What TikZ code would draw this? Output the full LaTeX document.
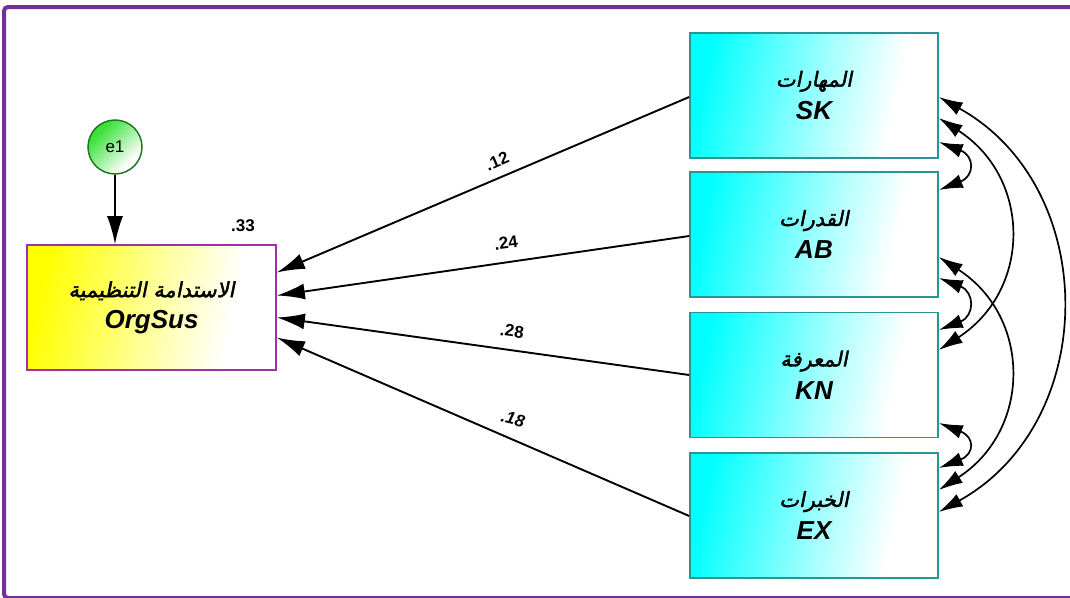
\documentclass[tikz,border=0pt]{standalone}
\usepackage{fontspec}
\setmainfont{Liberation Sans}
\newfontfamily\arabicfont[Script=Arabic,FakeSlant=0.2,FakeBold=2]{DejaVu Sans}
\TeXXeTstate=1
\usetikzlibrary{arrows.meta,calc}

\definecolor{framepurple}{RGB}{112,48,160}
\definecolor{boxpurple}{RGB}{160,48,170}
\definecolor{boxteal}{RGB}{40,150,150}
\definecolor{ballgreen}{RGB}{30,120,40}
\definecolor{ballfill}{RGB}{60,225,60}

\pgfdeclarehorizontalshading{cyanfade}{100bp}{color(0bp)=(cyan); color(25bp)=(cyan); color(52bp)=(cyan!35); color(68bp)=(white); color(100bp)=(white)}
\pgfdeclarehorizontalshading{yellowfade}{100bp}{color(0bp)=(yellow); color(25bp)=(yellow); color(52bp)=(yellow!35); color(68bp)=(white); color(100bp)=(white)}
\pgfdeclarehorizontalshading{greenfade}{100bp}{color(0bp)=(ballfill); color(30bp)=(ballfill); color(70bp)=(white); color(100bp)=(white)}

\tikzset{
  varbox/.style={draw=boxteal, line width=1.6pt, shading=cyanfade, shading angle=-12,
    minimum width=248pt, minimum height=125pt, inner sep=0pt, align=center},
  depbox/.style={draw=boxpurple, line width=1.6pt, shading=yellowfade, shading angle=-12,
    minimum width=249pt, minimum height=125pt, inner sep=0pt, align=center},
  errball/.style={circle, draw=ballgreen, line width=1.5pt, shading=greenfade, shading angle=-45,
    minimum size=54pt, inner sep=0pt, font=\fontsize{17}{17}\selectfont},
  path/.style={line width=1.9pt, -{Latex[length=28pt,width=16pt]}},
  cov/.style={line width=1.7pt, {Latex[length=24pt,width=14pt]}-{Latex[length=24pt,width=14pt]}},
  coef/.style={font=\fontsize{17}{17}\selectfont\bfseries, inner sep=1pt},
}

\newcommand{\boxtext}[2]{{\fontsize{21}{21}\selectfont\arabicfont\beginR #1\endR}\\[9pt]{\fontsize{26}{26}\selectfont\bfseries\itshape #2}}

\begin{document}
\begin{tikzpicture}[x=1pt,y=-1pt]
  \useasboundingbox (0,0) rectangle (1070,597);
  % outer frame
  \draw[framepurple, line width=4pt, rounded corners=4pt] (4,7) rectangle (1090,598);

  % dependent variable and its error term
  \node[depbox] (org) at (151.5,307.5) {\boxtext{الاستدامة التنظيمية}{OrgSus}};
  \node[errball] (e1) at (115,147) {e1};
  \draw[path] (e1) -- (e1|-org.north);
  \node[coef] (r2) at (243,226) {.33};

  % predictors
  \node[varbox] (sk) at (814,95.5)  {\boxtext{المهارات}{SK}};
  \node[varbox] (ab) at (814,234.5) {\boxtext{القدرات}{AB}};
  \node[varbox] (kn) at (814,375)   {\boxtext{المعرفة}{KN}};
  \node[varbox] (ex) at (814,515.5) {\boxtext{الخبرات}{EX}};

  % regression paths
  \draw[path] ([yshift=-1.5pt]sk.west) -- ([yshift=35pt]org.east);
  \draw[path] ([yshift=-1.5pt]ab.west) -- ([yshift=12pt]org.east);
  \draw[path] ([yshift=0pt]kn.west)   -- ([yshift=-10pt]org.east);
  \draw[path] ([yshift=-0.5pt]ex.west) -- ([yshift=-30pt]org.east);

  \node[coef, rotate=23] (c1) at (497,161) {.12};
  \node[coef, rotate=8]  (c2) at (506,243) {.24};
  \node[coef, rotate=-8] (c3) at (512,331) {.28};
  \node[coef, rotate=-14, font=\fontsize{17}{17}\selectfont\bfseries\itshape] (c4) at (513,419) {.18};

  % covariances between predictors
  \draw[cov] ([yshift=-46.5pt]sk.east) .. controls +(36,14) and +(36,-14) .. ([yshift=44.5pt]ab.east);
  \draw[cov] ([yshift=-43.5pt]ab.east) .. controls +(36,14) and +(36,-14) .. ([yshift=45pt]kn.east);
  \draw[cov] ([yshift=-48pt]kn.east) .. controls +(36,14) and +(36,-14) .. ([yshift=47.5pt]ex.east);
  \draw[cov] ([yshift=-22.5pt]sk.east) .. controls +(93,60) and +(93,-60) .. ([yshift=25pt]kn.east);
  \draw[cov] ([yshift=-22.5pt]ab.east) .. controls +(93,60) and +(93,-60) .. ([yshift=25.5pt]ex.east);
  \draw[cov] ([yshift=-1.5pt]sk.east) .. controls +(162,90) and +(162,-90) .. ([yshift=3.5pt]ex.east);
\end{tikzpicture}
\end{document}
